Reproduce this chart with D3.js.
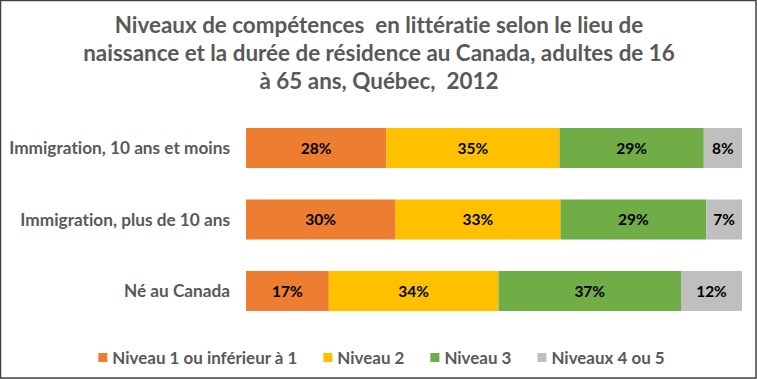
<!DOCTYPE html>
<html>
<head>
<meta charset="utf-8">
<script src="https://cdn.jsdelivr.net/npm/d3@7"></script>
<style>
  html, body { margin: 0; padding: 0; background: #fff; }
  svg { display: block; }
  text { font-family: Lato, "Open Sans", sans-serif; font-weight: bold; font-variant-ligatures: none; }
</style>
</head>
<body>
<svg id="chart" width="757" height="379"></svg>
<script>
const categories = ["Immigration, 10 ans et moins", "Immigration, plus de 10 ans", "Né au Canada"];
const seriesNames = ["Niveau 1 ou inférieur à 1", "Niveau 2", "Niveau 3", "Niveaux 4 ou 5"];
const niveau1 = [28.3, 30.1, 16.7];
const niveau2 = [34.9, 33.3, 34.2];
const niveau3 = [29.1, 29.4, 36.8];
const niveau45 = [7.7, 7.2, 12.3];
const titleLines = [
  "Niveaux de compétences  en littératie selon le lieu de",
  "naissance et la durée de résidence au Canada, adultes de 16",
  "à 65 ans, Québec,  2012"
];
const colors = ["#ED7D31", "#FFC000", "#70AD47", "#BFBFBF"];

const W = 757, H = 379;
const svg = d3.select("#chart");

// border
svg.append("rect").attr("x", 0.5).attr("y", 0.5).attr("width", W - 1.5).attr("height", H - 1.5)
  .attr("fill", "#fff").attr("stroke", "#404040").attr("stroke-width", 1.5);

// title
const titleG = svg.append("g").attr("fill", "#595959").attr("text-anchor", "middle");
const tl = titleG.selectAll("text").data(titleLines).join("text")
  .attr("x", 379).attr("y", (d, i) => 33 + i * 28)
  .attr("font-size", 20)
  .style("white-space", "pre")
  .text(d => d);
{
  const n = tl.nodes()[1];
  const w = n.getComputedTextLength();
  const fs = 20 * 592 / w;
  tl.attr("font-size", fs.toFixed(2));
}

const table = categories.map((c, i) => ({
  cat: c,
  [seriesNames[0]]: niveau1[i],
  [seriesNames[1]]: niveau2[i],
  [seriesNames[2]]: niveau3[i],
  [seriesNames[3]]: niveau45[i]
}));
const stack = d3.stack().keys(seriesNames)(table);

const x = d3.scaleLinear().domain([0, 100]).range([246, 742]);
const y = d3.scaleBand().domain(categories).range([128, 311]).paddingInner(0.44).paddingOuter(0);

const layers = svg.append("g").selectAll("g").data(stack).join("g")
  .attr("fill", (d, i) => colors[i]);
layers.selectAll("rect").data(d => d).join("rect")
  .attr("x", d => x(d[0]))
  .attr("y", d => y(d.data.cat))
  .attr("width", d => x(d[1]) - x(d[0]))
  .attr("height", y.bandwidth());

const labG = svg.append("g").attr("text-anchor", "middle").attr("fill", "#000");
stack.forEach(layer => {
  labG.selectAll(null).data(layer).join("text")
    .attr("x", d => (x(d[0]) + x(d[1])) / 2)
    .attr("y", d => y(d.data.cat) + y.bandwidth() / 2)
    .attr("dy", "0.36em")
    .attr("font-size", 15.5)
    .text(d => Math.round(d[1] - d[0]) + "%");
});

// category axis
const yAxis = svg.append("g").attr("transform", "translate(230,0)")
  .call(d3.axisLeft(y).tickSize(0).tickPadding(0));
yAxis.select(".domain").remove();
yAxis.selectAll("text").attr("fill", "#595959").attr("font-size", 14)
  .attr("font-family", "Lato, 'Open Sans', sans-serif").attr("font-weight", "bold")
  .attr("dy", "0.36em");
{
  const t = yAxis.selectAll("text").filter(d => d === categories[0]);
  const w = t.node().getComputedTextLength();
  const fs = 14 * 221 / w;
  yAxis.selectAll("text").attr("font-size", fs.toFixed(2));
}

// legend
const legG = svg.append("g");
const items = legG.selectAll("g").data(seriesNames).join("g");
items.append("rect").attr("width", 9).attr("height", 9).attr("y", -5)
  .attr("fill", (d, i) => colors[i]);
const lt = items.append("text").attr("x", 14).attr("dy", "0.36em")
  .attr("fill", "#595959").attr("font-size", 14).text(d => d);
{
  const w = lt.nodes()[0].getComputedTextLength();
  const fs = 14 * 185 / w;
  lt.attr("font-size", fs.toFixed(2));
}
const widths = lt.nodes().map(n => 14 + n.getComputedTextLength());
const gap = 26;
const total = d3.sum(widths) + gap * (widths.length - 1);
let cx = 381.5 - total / 2;
items.each(function(d, i) {
  d3.select(this).attr("transform", `translate(${cx},358)`);
  cx += widths[i] + gap;
});
</script>
</body>
</html>
